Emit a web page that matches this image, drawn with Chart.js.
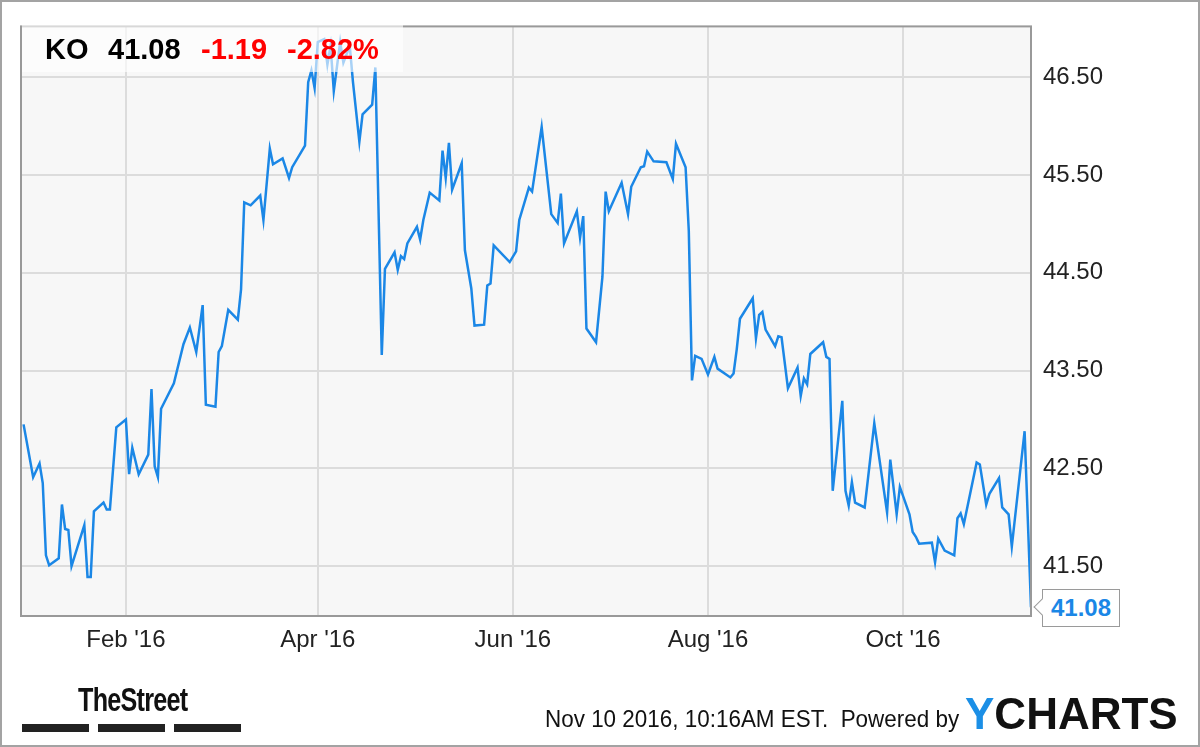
<!DOCTYPE html>
<html>
<head>
<meta charset="utf-8">
<title>KO price chart</title>
<script src="https://cdn.jsdelivr.net/npm/chart.js@4.4.0/dist/chart.umd.min.js"></script>
<style>
    body { margin: 0; background: #fff; font-family: "Liberation Sans", Arial, sans-serif; }
    #wrap { position: relative; width: 1200px; height: 747px; overflow: hidden; }
    #chart { position: absolute; left: 0; top: 0; }
    .outer { position: absolute; left: 0; top: 0; width: 1200px; height: 747px; box-sizing: border-box; border: 2px solid #a3a3a3; pointer-events: none; }
    .quote { position: absolute; left: 22px; top: 22px; width: 381px; height: 50px; background: rgba(255, 255, 255, 0.62); }
    .quote span { position: absolute; top: 13px; font-size: 29px; font-weight: bold; line-height: 29px; white-space: nowrap; }
    .last { position: absolute; left: 1042px; top: 589px; width: 78px; height: 38px; box-sizing: border-box; border: 1.5px solid #9a9a9a; background: #fff;
        color: #1b87e6; font-size: 24px; font-weight: bold; line-height: 35px; text-align: center; }
    .pointer { position: absolute; left: 1036px; top: 601px; width: 11px; height: 11px; background: #fff; border-left: 1.5px solid #9a9a9a; border-bottom: 1.5px solid #9a9a9a; transform: rotate(45deg); }
    .street { position: absolute; left: 78px; top: 680px; font-size: 34px; font-weight: bold; color: #111; letter-spacing: -1px; transform: scaleX(0.74); transform-origin: left top; white-space: nowrap; }
    .bar { position: absolute; top: 724px; height: 8px; background: #222; }
    .stamp { position: absolute; left: 545px; top: 705px; font-size: 24px; color: #111; transform: scaleX(0.935); transform-origin: left top; white-space: nowrap; }
    .ycharts { position: absolute; left: 965px; top: 689px; font-size: 44px; font-weight: bold; color: #111; white-space: nowrap; }
    .ycharts b { color: #1b8fe6; }
</style>
</head>
<body>
<div id="wrap">
    <canvas id="chart" width="1200" height="747"></canvas>
    <div class="quote">
        <span style="left:23px;color:#000">KO</span>
        <span style="left:86px;color:#000">41.08</span>
        <span style="left:179px;color:#f00">-1.19</span>
        <span style="left:265px;color:#f00">-2.82%</span>
    </div>
    <div class="last">41.08</div>
    <div class="pointer"></div>
    <div class="street">TheStreet</div>
    <div class="bar" style="left:22px;width:67px"></div>
    <div class="bar" style="left:98px;width:67px"></div>
    <div class="bar" style="left:174px;width:67px"></div>
    <div class="stamp">Nov 10 2016, 10:16AM EST.&nbsp; Powered by</div>
    <div class="ycharts"><b>Y</b>CHARTS</div>
    <div class="outer"></div>
</div>
<script>
// days since 2016-01-01
const days = [
    -1, 2, 4, 5, 6, 7, 10, 11, 12, 13,
    14, 18, 19, 20, 21, 24, 25, 26, 28, 31,
    32, 33, 35, 38, 39, 40, 41, 42, 46, 49,
    51, 53, 55, 56, 59, 60, 61, 63, 66, 67,
    68, 70, 73, 74, 76, 77, 80, 82, 83, 87,
    88, 89, 90, 91, 93, 94, 95, 96, 98, 99,
    101, 102, 104, 105, 108, 109, 111, 112, 115, 116,
    117, 118, 119, 122, 123, 124, 126, 129, 130, 131,
    132, 133, 136, 137, 139, 140, 143, 144, 145, 146,
    151, 153, 154, 157, 158, 161, 164, 166, 167, 168,
    172, 173, 174, 175, 178, 180, 181, 182, 186, 188,
    189, 192, 193, 194, 196, 200, 202, 203, 206, 207,
    208, 209, 211, 213, 215, 216, 220, 221, 222, 223,
    227, 228, 229, 230, 231, 234, 235, 236, 238, 241,
    242, 243, 244, 245, 249, 250, 251, 252, 255, 256,
    257, 258, 259, 262, 265, 269, 270, 272, 273, 276,
    277, 278, 279, 283, 284, 285, 287, 290, 291, 292,
    293, 297, 298, 300, 301, 304, 305, 307, 308, 312,
    314
];
const prices = [
    42.95, 42.41, 42.55, 42.35, 41.61, 41.51, 41.58, 42.13, 41.88, 41.87,
    41.50, 41.92, 41.39, 41.39, 42.06, 42.15, 42.08, 42.08, 42.92, 43.00,
    42.44, 42.71, 42.44, 42.64, 43.31, 42.52, 42.41, 43.11, 43.37, 43.77,
    43.94, 43.69, 44.17, 43.15, 43.13, 43.69, 43.75, 44.12, 44.02, 44.33,
    45.22, 45.19, 45.29, 45.04, 45.77, 45.61, 45.67, 45.47, 45.58, 45.80,
    46.45, 46.57, 46.39, 46.86, 46.89, 46.63, 46.82, 46.36, 46.86, 46.65,
    46.82, 46.45, 45.84, 46.12, 46.22, 46.60, 43.66, 44.54, 44.71, 44.53,
    44.67, 44.64, 44.80, 44.97, 44.84, 45.04, 45.32, 45.24, 45.75, 45.47,
    45.83, 45.35, 45.62, 44.73, 44.34, 43.96, 43.97, 44.37, 44.39, 44.78,
    44.61, 44.72, 45.04, 45.37, 45.33, 45.99, 45.10, 45.01, 45.31, 44.80,
    45.13, 44.86, 45.08, 43.93, 43.79, 44.46, 45.33, 45.13, 45.42, 45.10,
    45.38, 45.58, 45.59, 45.74, 45.64, 45.63, 45.46, 45.82, 45.58, 44.93,
    43.40, 43.65, 43.62, 43.46, 43.64, 43.52, 43.43, 43.47, 43.72, 44.03,
    44.24, 43.83, 44.07, 44.10, 43.92, 43.75, 43.85, 43.84, 43.32, 43.53,
    43.24, 43.42, 43.36, 43.67, 43.79, 43.64, 43.62, 42.27, 43.19, 42.27,
    42.12, 42.36, 42.15, 42.10, 42.96, 42.05, 42.59, 42.03, 42.31, 42.03,
    41.85, 41.80, 41.73, 41.74, 41.54, 41.78, 41.66, 41.61, 41.99, 42.04,
    41.93, 42.56, 42.54, 42.13, 42.24, 42.40, 42.10, 42.03, 41.70, 42.88,
    41.08
];
const xTickDays = [31, 91, 152, 213, 274];
const xTickLabels = ["Feb '16", "Apr '16", "Jun '16", "Aug '16", "Oct '16"];
const yTicks = [41.5, 42.5, 43.5, 44.5, 45.5, 46.5];

// gray plot background and frame
const plotFrame = {
    id: 'plotFrame',
    beforeDraw(chart) {
        const a = chart.chartArea;
        const ctx = chart.ctx;
        ctx.save();
        ctx.fillStyle = '#f7f7f7';
        ctx.fillRect(a.left, a.top, a.right - a.left, a.bottom - a.top);
        ctx.restore();
    },
    afterDraw(chart) {
        const a = chart.chartArea;
        const ctx = chart.ctx;
        ctx.save();
        ctx.strokeStyle = '#999';
        ctx.lineWidth = 2;
        ctx.strokeRect(a.left, a.top, a.right - a.left, a.bottom - a.top);
        ctx.restore();
    }
};

const points = days.map((d, i) => ({ x: d, y: prices[i] }));

new Chart(document.getElementById('chart'), {
    type: 'line',
    data: {
        datasets: [{
            data: points,
            borderColor: '#1b87e6',
            borderWidth: 2.5,
            pointRadius: 0,
            tension: 0,
            fill: false
        }]
    },
    options: {
        responsive: false,
        animation: false,
        layout: { padding: { left: 21, top: 21, right: 0, bottom: 0 } },
        plugins: { legend: { display: false }, tooltip: { enabled: false } },
        scales: {
            x: {
                type: 'linear',
                min: -1.8,
                max: 314,
                afterBuildTicks: (scale) => { scale.ticks = xTickDays.map(v => ({ value: v })); },
                afterFit: (scale) => { scale.height = 131; },
                ticks: {
                    autoSkip: false,
                    maxRotation: 0,
                    padding: 10,
                    color: '#222',
                    font: { family: '"Liberation Sans", Arial, sans-serif', size: 24 },
                    callback: (v) => xTickLabels[xTickDays.indexOf(v)]
                },
                grid: { color: '#dcdcdc', lineWidth: 2, drawTicks: false },
                border: { display: false }
            },
            y: {
                position: 'right',
                min: 40.99,
                max: 47.02,
                afterBuildTicks: (scale) => { scale.ticks = yTicks.map(v => ({ value: v })); },
                afterFit: (scale) => { scale.width = 169; },
                ticks: {
                    padding: 12,
                    color: '#222',
                    font: { family: '"Liberation Sans", Arial, sans-serif', size: 24 },
                    callback: (v) => v.toFixed(2)
                },
                grid: { color: '#dcdcdc', lineWidth: 2, drawTicks: false },
                border: { display: false }
            }
        }
    },
    plugins: [plotFrame]
});
</script>
</body>
</html>
